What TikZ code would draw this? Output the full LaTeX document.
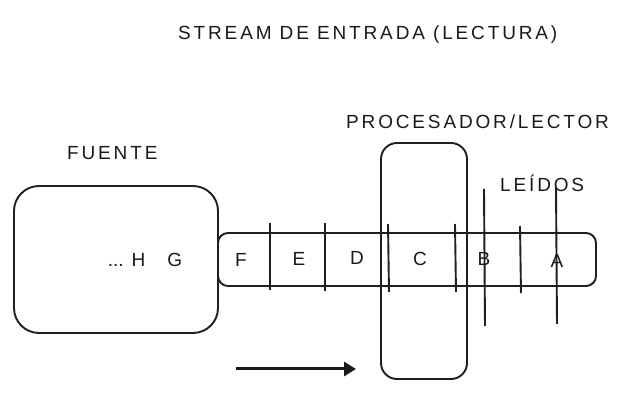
\documentclass[tikz,border=0pt]{standalone}
\usepackage{fontspec}
\setmainfont{Liberation Sans}[LetterSpace=15]
\newfontfamily\cellfont{Liberation Sans}
\usetikzlibrary{arrows.meta}
\begin{document}
\begin{tikzpicture}[x=1pt,y=-1pt,
  ink/.style={draw=black!88,line width=1.9pt},
  lbl/.style={font=\fontsize{19}{22}\selectfont,text=black!90,inner sep=0pt},
  cell/.style={font=\cellfont\fontsize{19}{21}\selectfont,text=black!90,inner sep=0pt}]
\useasboundingbox (0,0) rectangle (643,411);
% source box
\draw[ink,rounded corners=25pt] (14,186) rectangle (218,333);
\node[cell] (hg) at (145,260) {...\hspace{8pt}H\hspace{22pt}G};
% tape
\draw[ink,rounded corners=10pt] (218,233) rectangle (596,286);
% dividers
\draw[ink] (270,223) coordinate (d1a) -- (270,290) coordinate (d1b);
\draw[ink] (325,223) coordinate (d2a) -- (325,291) coordinate (d2b);
\draw[ink] (388,224) coordinate (d3a) -- (389,292) coordinate (d3b);
\draw[ink] (455,224) coordinate (d4a) -- (456,292) coordinate (d4b);
\draw[ink] (520,226) coordinate (d5a) -- (521,293) coordinate (d5b);
% long lines
\draw[ink] (484,189) coordinate (l1a) -- (485,326) coordinate (l1b);
\draw[ink] (556,187) coordinate (l2a) -- (557,324) coordinate (l2b);
% processor
\draw[ink,rounded corners=16pt] (381,143) rectangle (467,379);
% cell labels
\node[cell] (F) at (241,260) {F};
\node[cell] (E) at (299,259) {E};
\node[cell] (D) at (357,258) {D};
\node[cell] (C) at (420,259) {C};
\node[cell] (B) at (484,259) {B};
\node[cell] (A) at (557,261) {A};
% labels
\node[lbl,anchor=west] (title) at (178,35) {STREAM DE ENTRADA (LECTURA)};
\node[lbl,anchor=west] (fuente) at (67,153) {FUENTE};
\node[lbl,anchor=west] (proc) at (346,122) {PROCESADOR/LECTOR};
\node[lbl,anchor=west] (leidos) at (500,183) {LEÍDOS};
% arrow
\coordinate (ar1) at (236,369);
\coordinate (ar2) at (356,369);
\draw[draw=black!90,line width=3pt,-{Triangle[length=12pt,width=14pt]}] (ar1) -- (ar2);
\end{tikzpicture}
\end{document}
